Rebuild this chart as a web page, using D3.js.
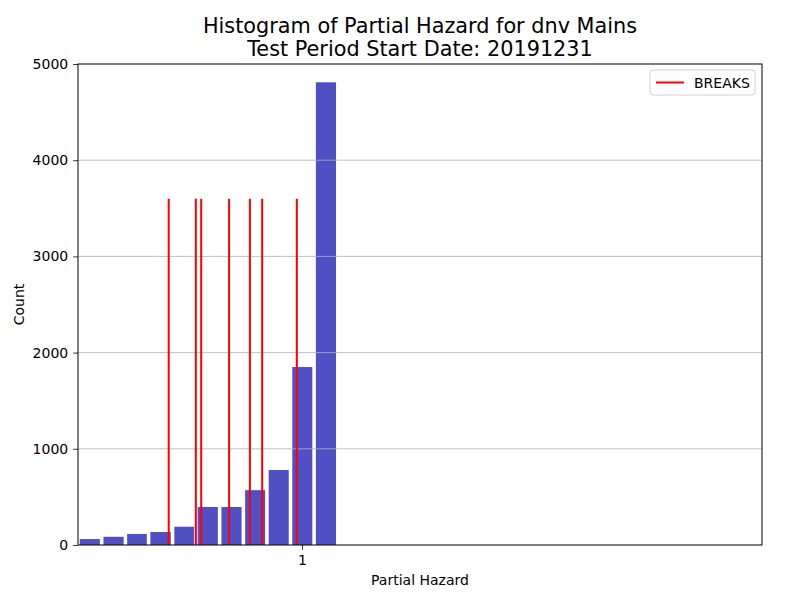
<!DOCTYPE html>
<html>
<head>
<meta charset="utf-8">
<script src="https://d3js.org/d3.v7.min.js"></script>
<style>
  body { margin: 0; background: #fff; }
  text { font-family: "DejaVu Sans", sans-serif; }
</style>
</head>
<body>
<svg id="chart"></svg>
<script>
// histogram bin edges (log spaced) and counts
var binEdges = [0.5, 0.538, 0.579, 0.622, 0.670, 0.720, 0.775, 0.834, 0.897, 0.965, 1.038, 1.117];
var counts = [62, 85, 115, 135, 190, 395, 395, 570, 780, 1850, 4810];
var breaks = [0.662, 0.720, 0.732, 0.798, 0.851, 0.884, 0.984];
var breakHeight = 3600;
var yTicks = [0, 1000, 2000, 3000, 4000, 5000];
var xTicks = [1];

var svgWidth = 790, svgHeight = 598;
var margin = {top: 64, right: 28, bottom: 53, left: 78};
var width = svgWidth - margin.left - margin.right;
var height = svgHeight - margin.top - margin.bottom;

var svg = d3.select("#chart").attr("width", svgWidth).attr("height", svgHeight);
var chart = svg.append("g").attr("transform", "translate(" + margin.left + "," + margin.top + ")");

var x = d3.scaleLog().domain([0.5, 4.15]).range([0, width]);
var y = d3.scaleLinear().domain([0, 5000]).range([height, 0]);

var bins = counts.map(function(c, i) { return {x0: binEdges[i], x1: binEdges[i + 1], count: c}; });
var rwidth = 0.85;

chart.selectAll(".bar").data(bins).enter().append("rect")
    .attr("class", "bar")
    .attr("x", function(d) {
        var a = x(d.x0), b = x(d.x1);
        return a + (b - a) * (1 - rwidth) / 2;
    })
    .attr("width", function(d) { return (x(d.x1) - x(d.x0)) * rwidth; })
    .attr("y", function(d) { return y(d.count); })
    .attr("height", function(d) { return height - y(d.count); })
    .attr("fill", "#5050c4");

// grid on top of bars
chart.selectAll(".grid").data(yTicks.filter(function(t) { return t > 0 && t < 5000; })).enter().append("line")
    .attr("x1", 0).attr("x2", width)
    .attr("y1", function(d) { return y(d); }).attr("y2", function(d) { return y(d); })
    .attr("stroke", "#b0b0b0").attr("stroke-width", 0.8);

chart.selectAll(".brk").data(breaks).enter().append("line")
    .attr("x1", function(d) { return x(d); }).attr("x2", function(d) { return x(d); })
    .attr("y1", y(0)).attr("y2", y(breakHeight))
    .attr("stroke", "red").attr("stroke-width", 2);

var xAxis = d3.axisBottom(x).tickValues(xTicks).tickFormat(d3.format("d")).tickSize(4.9).tickPadding(4.9);
var yAxis = d3.axisLeft(y).tickValues(yTicks).tickFormat(d3.format("d")).tickSize(4.9).tickPadding(4.9);

chart.append("g").attr("transform", "translate(0," + height + ")").call(xAxis)
    .call(function(g) { g.select(".domain").remove(); });
chart.append("g").call(yAxis)
    .call(function(g) { g.select(".domain").remove(); });

chart.selectAll(".tick text").attr("font-size", 14).attr("font-family", "DejaVu Sans").attr("fill", "#000");
chart.selectAll(".tick line").attr("stroke", "#000").attr("stroke-width", 0.8);

chart.append("rect").attr("width", width).attr("height", height)
    .attr("fill", "none").attr("stroke", "#000").attr("stroke-width", 1);

// titles and labels
svg.append("text").attr("x", margin.left + width / 2).attr("y", 33)
    .attr("text-anchor", "middle").attr("font-size", 20.8).text("Histogram of Partial Hazard for dnv Mains");
svg.append("text").attr("x", margin.left + width / 2).attr("y", 56)
    .attr("text-anchor", "middle").attr("font-size", 20.8).text("Test Period Start Date: 20191231");
svg.append("text").attr("x", margin.left + width / 2).attr("y", 585)
    .attr("text-anchor", "middle").attr("font-size", 14).text("Partial Hazard");
svg.append("text").attr("transform", "translate(24," + (margin.top + height / 2) + ") rotate(-90)")
    .attr("text-anchor", "middle").attr("font-size", 14).text("Count");

// legend
var leg = svg.append("g").attr("transform", "translate(650,70)");
leg.append("rect").attr("width", 105).attr("height", 25).attr("rx", 3)
    .attr("fill", "#fff").attr("fill-opacity", 0.8).attr("stroke", "#d0d0d0");
leg.append("line").attr("x1", 6).attr("x2", 34).attr("y1", 12.5).attr("y2", 12.5)
    .attr("stroke", "red").attr("stroke-width", 2);
leg.append("text").attr("x", 44).attr("y", 17.5).attr("font-size", 14).text("BREAKS");
</script>
</body>
</html>
